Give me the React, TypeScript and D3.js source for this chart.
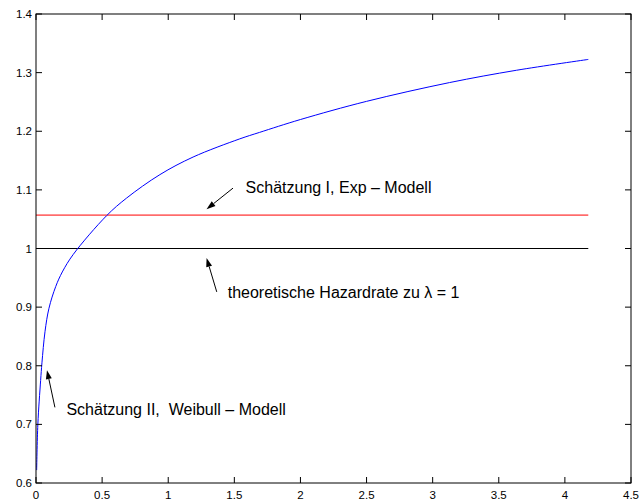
import React from "react";
import * as d3 from "d3";

// Estimated Weibull hazard curve (time, rate)
const hazardTime = [0.005, 0.014, 0.035, 0.045, 0.068, 0.098, 0.149, 0.199, 0.282, 0.534, 0.685, 0.937, 1.188, 1.541, 1.69, 2.0, 2.5, 3.127, 3.633, 4.177];
const weibullHazard = [0.622, 0.70, 0.775, 0.805, 0.858, 0.898, 0.935, 0.960, 0.990, 1.056, 1.086, 1.126, 1.156, 1.187, 1.198, 1.22, 1.251, 1.283, 1.304, 1.3225];

// Constant hazard rates
const expModelRate = 1.057;
const theoreticalRate = 1;
const horizonStart = 0;
const horizonEnd = 4.177;

const xTicks = [0, 0.5, 1, 1.5, 2, 2.5, 3, 3.5, 4, 4.5];
const yTicks = [0.6, 0.7, 0.8, 0.9, 1, 1.1, 1.2, 1.3, 1.4];

// Annotations: label text, label anchor, arrow tail and tip (data units)
const annotationLabels = ["Schätzung I, Exp \u2013 Modell", "theoretische Hazardrate zu \u03bb = 1", "Schätzung II,  Weibull \u2013 Modell"];
const labelAnchors: [number, number][] = [[1.585, 1.095], [1.45, 0.915], [0.23, 0.7155]];
const arrowTails: [number, number][] = [[1.49, 1.103], [1.367, 0.926], [0.143, 0.729]];
const arrowTips: [number, number][] = [[1.29, 1.067], [1.29, 0.984], [0.083, 0.7925]];

const W = 640;
const H = 503;
const m = { left: 36, right: 631, top: 14, bottom: 483 };
const font = "'Liberation Sans', Arial, Helvetica, sans-serif";

export default function App() {
  const x = d3.scaleLinear().domain([0, 4.5]).range([m.left, m.right]);
  const y = d3.scaleLinear().domain([0.6, 1.4]).range([m.bottom, m.top]);
  const tickLen = 6;

  const line = d3
    .line<number>()
    .x((_, i) => x(hazardTime[i]))
    .y((d) => y(d))
    .curve(d3.curveCatmullRom.alpha(0.5));

  const arrow = (i: number) => {
    const [tx, ty] = arrowTails[i];
    const [hx, hy] = arrowTips[i];
    const x1 = x(tx), y1 = y(ty), x2 = x(hx), y2 = y(hy);
    const ang = Math.atan2(y2 - y1, x2 - x1);
    const len = 9, half = 3;
    const bx = x2 - len * Math.cos(ang), by = y2 - len * Math.sin(ang);
    const px = -Math.sin(ang) * half, py = Math.cos(ang) * half;
    return (
      <g key={"a" + i}>
        <line x1={x1} y1={y1} x2={bx} y2={by} stroke="#000" strokeWidth={1} />
        <polygon points={`${x2},${y2} ${bx + px},${by + py} ${bx - px},${by - py}`} fill="#000" />
      </g>
    );
  };

  return (
    <svg width={W} height={H} style={{ position: "absolute", left: 0, top: 0, background: "#fff" }} fontFamily={font}>
      <rect x={0} y={0} width={W} height={H} fill="#fff" />
      {/* constant hazard lines */}
      <line x1={x(horizonStart)} x2={x(horizonEnd)} y1={y(theoreticalRate)} y2={y(theoreticalRate)} stroke="#000" strokeWidth={1} />
      <line x1={x(horizonStart)} x2={x(horizonEnd)} y1={y(expModelRate)} y2={y(expModelRate)} stroke="#ff0000" strokeWidth={1} />
      {/* Weibull hazard */}
      <path d={line(weibullHazard) || ""} fill="none" stroke="#0000ff" strokeWidth={1} />

      {/* axes box */}
      <rect x={m.left} y={m.top} width={m.right - m.left} height={m.bottom - m.top} fill="none" stroke="#000" strokeWidth={1} />
      {xTicks.map((t) => (
        <g key={"x" + t}>
          <line x1={x(t)} x2={x(t)} y1={m.bottom} y2={m.bottom - tickLen} stroke="#000" />
          <line x1={x(t)} x2={x(t)} y1={m.top} y2={m.top + tickLen} stroke="#000" />
          <text x={x(t)} y={499} textAnchor="middle" fontSize={11.5}>{String(t)}</text>
        </g>
      ))}
      {yTicks.map((t) => (
        <g key={"y" + t}>
          <line x1={m.left} x2={m.left + tickLen} y1={y(t)} y2={y(t)} stroke="#000" />
          <line x1={m.right} x2={m.right - tickLen} y1={y(t)} y2={y(t)} stroke="#000" />
          <text x={32} y={y(t) + 4} textAnchor="end" fontSize={11.5}>{String(t)}</text>
        </g>
      ))}

      {/* annotations */}
      {annotationLabels.map((s, i) => (
        <g key={"l" + i}>
          {arrow(i)}
          <text x={x(labelAnchors[i][0])} y={y(labelAnchors[i][1])} fontSize={16} style={{ whiteSpace: "pre" }}>{s}</text>
        </g>
      ))}
    </svg>
  );
}
